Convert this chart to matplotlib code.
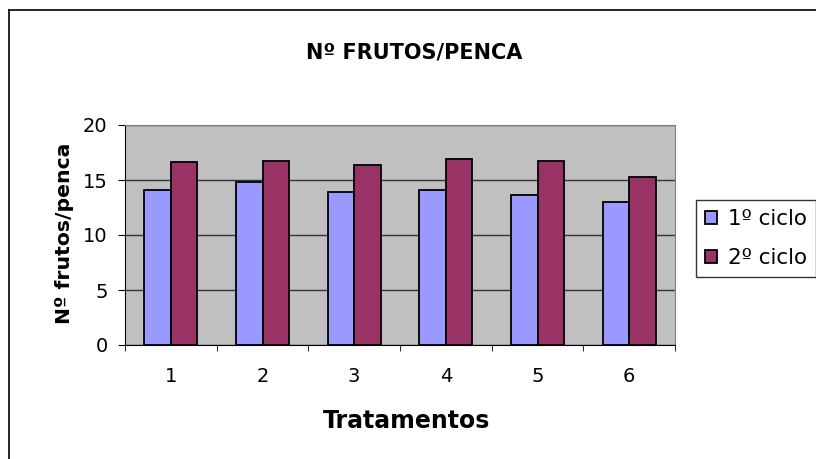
import matplotlib
matplotlib.use("Agg")
import matplotlib.pyplot as plt
import numpy as np
from matplotlib.lines import Line2D

plt.rcParams['font.family'] = ['DejaVu Sans']

categories = ['1', '2', '3', '4', '5', '6']
ciclo1 = [14.1, 14.8, 13.9, 14.1, 13.6, 13.0]
ciclo2 = [16.6, 16.7, 16.4, 16.9, 16.7, 15.3]
series_names = ['1º ciclo', '2º ciclo']
colors = ['#9999FF', '#993366']

W, H = 816, 459
fig = plt.figure(figsize=(W / 100, H / 100), dpi=100)
fig.patch.set_facecolor('white')

# outer chart frame
fig.add_artist(Line2D([9 / W, 9 / W], [0, 1 - 10 / H], color='black', lw=1.2))
fig.add_artist(Line2D([9 / W, 1], [1 - 10 / H, 1 - 10 / H], color='black', lw=1.2))

ax = fig.add_axes([125 / W, 1 - 345 / H, 550 / W, 220 / H])
ax.set_facecolor('#C0C0C0')

x = np.arange(1, len(categories) + 1)
bw = 0.29
b1 = ax.bar(x - bw / 2, ciclo1, bw, color=colors[0], edgecolor='black', linewidth=1.3, label=series_names[0], zorder=3)
b2 = ax.bar(x + bw / 2, ciclo2, bw, color=colors[1], edgecolor='black', linewidth=1.3, label=series_names[1], zorder=3)

ax.set_xlim(0.5, len(categories) + 0.5)
ax.set_ylim(0, 20)
ax.set_yticks([0, 5, 10, 15, 20])
ax.yaxis.grid(True, color='#333333', linewidth=1.0, zorder=1)
ax.set_axisbelow(True)

ax.set_xticks(x)
ax.set_xticklabels(categories, fontsize=14)
ax.tick_params(axis='x', which='major', length=0, pad=16)
ax.set_xticks(np.arange(0.5, len(categories) + 1, 1), minor=True)
ax.tick_params(axis='x', which='minor', length=4.3, direction='out', color='black')
ax.tick_params(axis='y', length=5, direction='out', labelsize=14, pad=7.5)

for s in ['top', 'right']:
    ax.spines[s].set_color('#808080')
for s in ['left', 'bottom']:
    ax.spines[s].set_color('black')

fig.text(414 / W, 1 - 52 / H, 'Nº FRUTOS/PENCA', ha='center', va='center', fontsize=15, fontweight='bold')
fig.text(64 / W, 1 - 233 / H, 'Nº frutos/penca', ha='center', va='center', rotation=90, fontsize=14.7, fontweight='bold')
fig.text(407 / W, 1 - 428 / H, 'Tratamentos', ha='center', va='baseline', fontsize=17, fontweight='bold')

leg = fig.legend(handles=[b1, b2], labels=series_names, loc='lower left',
                 bbox_to_anchor=(696 / W, 1 - 277 / H), fontsize=15.5,
                 frameon=True, fancybox=False, edgecolor='black',
                 handlelength=0.55, handleheight=0.55, handletextpad=0.5,
                 borderpad=0.42, labelspacing=0.86, borderaxespad=0)
leg.get_frame().set_linewidth(1.0)

fig.savefig('out.png', dpi=100)
